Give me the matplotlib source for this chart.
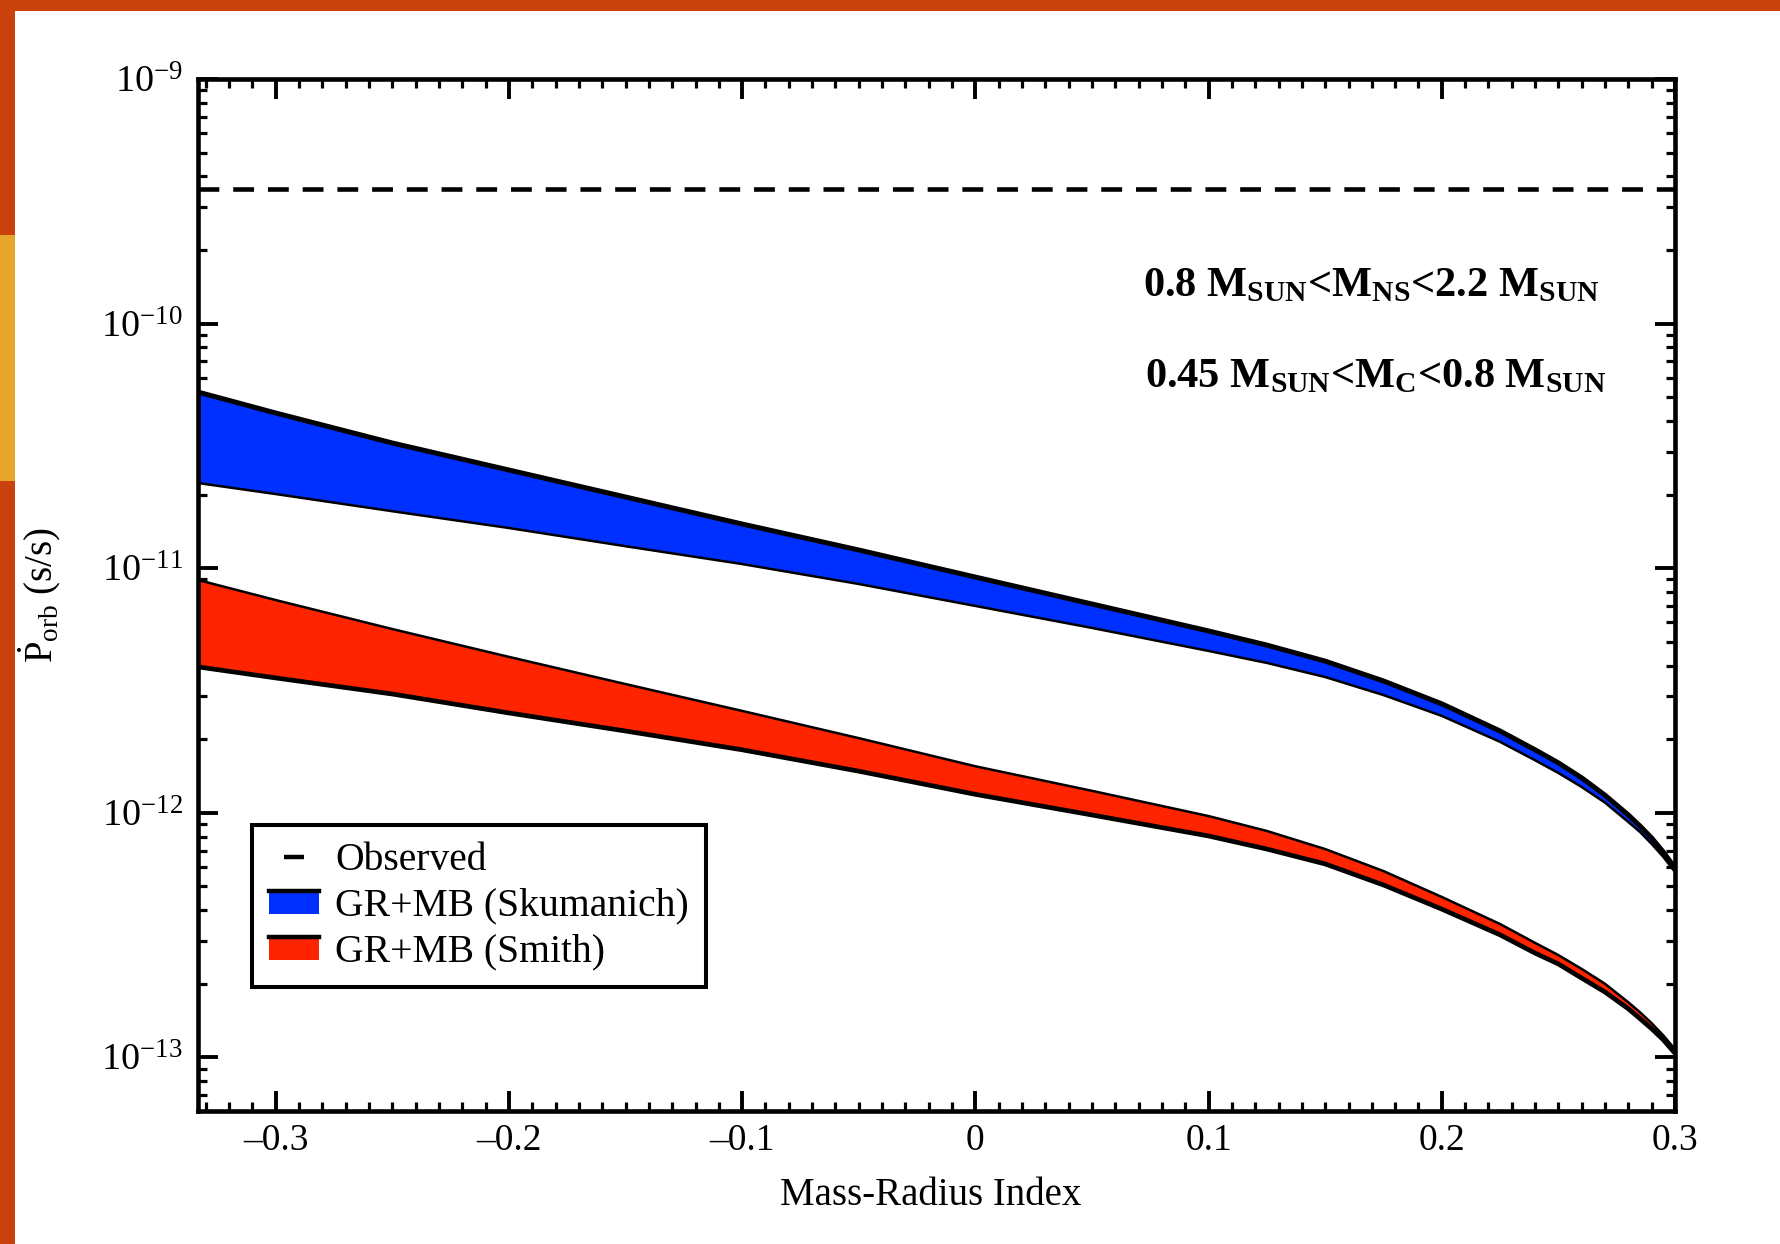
import numpy as np
import matplotlib
matplotlib.use("Agg")
import matplotlib.pyplot as plt
from matplotlib.patches import Rectangle, Patch
from matplotlib.lines import Line2D
from matplotlib.legend_handler import HandlerBase
from matplotlib.ticker import FixedLocator, FixedFormatter, LogLocator, NullFormatter

plt.rcParams['font.family'] = ['Liberation Serif', 'DejaVu Serif']
plt.rcParams['mathtext.fontset'] = 'custom'
plt.rcParams['mathtext.rm'] = 'Liberation Serif'
plt.rcParams['mathtext.it'] = 'Liberation Serif:italic'
plt.rcParams['mathtext.bf'] = 'Liberation Serif:bold'
plt.rcParams['lines.scale_dashes'] = False

# ---- data ----
mr_index = [-1/3, -0.3, -0.25, -0.2, -0.15, -0.1, -0.05, 0.0, 0.05, 0.1,
            0.125, 0.15, 0.175, 0.2, 0.225, 0.24, 0.25, 0.26, 0.27, 0.28,
            0.285, 0.29, 0.295, 0.3]
skumanich_upper = [5.25e-11, 4.31e-11, 3.25e-11, 2.52e-11, 1.955e-11, 1.516e-11,
                   1.187e-11, 9.20e-12, 7.14e-12, 5.54e-12, 4.85e-12, 4.17e-12,
                   3.46e-12, 2.79e-12, 2.16e-12, 1.81e-12, 1.60e-12, 1.39e-12,
                   1.18e-12, 9.80e-13, 8.83e-13, 7.89e-13, 6.91e-13, 5.95e-13]
skumanich_lower = [2.23e-11, 2.01e-11, 1.71e-11, 1.46e-11, 1.23e-11, 1.04e-11,
                   8.62e-12, 7.01e-12, 5.70e-12, 4.59e-12, 4.10e-12, 3.59e-12,
                   3.03e-12, 2.49e-12, 1.95e-12, 1.64e-12, 1.455e-12, 1.275e-12,
                   1.10e-12, 9.17e-13, 8.35e-13, 7.46e-13, 6.60e-13, 5.73e-13]
smith_upper = [8.95e-12, 7.41e-12, 5.64e-12, 4.34e-12, 3.36e-12, 2.61e-12,
               2.02e-12, 1.55e-12, 1.23e-12, 9.70e-13, 8.43e-13, 7.11e-13,
               5.78e-13, 4.53e-13, 3.51e-13, 2.94e-13, 2.62e-13, 2.30e-13,
               2.00e-13, 1.68e-13, 1.53e-13, 1.38e-13, 1.23e-13, 1.08e-13]
smith_lower = [3.95e-12, 3.56e-12, 3.06e-12, 2.56e-12, 2.16e-12, 1.81e-12,
               1.48e-12, 1.19e-12, 9.80e-13, 8.04e-13, 7.11e-13, 6.18e-13,
               5.07e-13, 4.04e-13, 3.17e-13, 2.67e-13, 2.41e-13, 2.11e-13,
               1.85e-13, 1.58e-13, 1.44e-13, 1.31e-13, 1.18e-13, 1.04e-13]
observed_pdot = 3.55e-10

xtick_values = [-0.3, -0.2, -0.1, 0.0, 0.1, 0.2, 0.3]
xtick_labels = ['\u20130.3', '\u20130.2', '\u20130.1', '0', '0.1', '0.2', '0.3']
ytick_values = [1e-13, 1e-12, 1e-11, 1e-10, 1e-9]
ytick_labels = [r'$10^{-13}$', r'$10^{-12}$', r'$10^{-11}$', r'$10^{-10}$', r'$10^{-9}$']
legend_labels = ['Observed', 'GR+MB (Skumanich)', 'GR+MB (Smith)']
annot_lines = [r'0.8 M$_{\mathbf{SUN}}$<M$_{\mathbf{NS}}$<2.2 M$_{\mathbf{SUN}}$',
               r'0.45 M$_{\mathbf{SUN}}$<M$_{\mathbf{C}}$<0.8 M$_{\mathbf{SUN}}$']

BLUE = '#0030ff'
RED = '#ff2400'
ORANGE = '#c9420e'
YELLOW = '#e6a62c'

W, H = 1780, 1244
fig = plt.figure(figsize=(W / 100, H / 100), dpi=100, facecolor=ORANGE)
# slide background pieces
fig.patches.append(Rectangle((15 / W, 0), 1 - 15 / W, 1 - 11 / H, transform=fig.transFigure,
                             facecolor='white', edgecolor='none', zorder=-2))
fig.patches.append(Rectangle((0, 1 - 481 / H), 15 / W, (481 - 235) / H, transform=fig.transFigure,
                             facecolor=YELLOW, edgecolor='none', zorder=-2))

ax = fig.add_axes([198 / W, 1 - 1111 / H, (1675 - 198) / W, (1111 - 79) / H])
ax.set_zorder(1)
ax.set_facecolor('white')

x = np.array(mr_index)
ax.fill_between(x, skumanich_lower, skumanich_upper, color=BLUE, lw=0, zorder=2)
ax.fill_between(x, smith_lower, smith_upper, color=RED, lw=0, zorder=2)
ax.plot(x, skumanich_upper, color='k', lw=3.6, zorder=3, solid_joinstyle='round')
ax.plot(x, skumanich_lower, color='k', lw=1.8, zorder=3, solid_joinstyle='round')
ax.plot(x, smith_upper, color='k', lw=1.8, zorder=3, solid_joinstyle='round')
ax.plot(x, smith_lower, color='k', lw=3.4, zorder=3, solid_joinstyle='round')
ax.axhline(observed_pdot, color='k', lw=3.3, linestyle=(0, (15, 10)), zorder=3)

ax.set_yscale('log')
ax.set_xlim(-1/3, 0.3)
ax.set_ylim(10 ** -13.219, 1e-9)

ax.xaxis.set_major_locator(FixedLocator(xtick_values))
ax.xaxis.set_major_formatter(FixedFormatter(xtick_labels))
ax.xaxis.set_minor_locator(FixedLocator(np.round(np.arange(-0.33, 0.3001, 0.01), 3)))
ax.yaxis.set_major_locator(FixedLocator(ytick_values))
ax.yaxis.set_major_formatter(FixedFormatter(ytick_labels))
ax.yaxis.set_minor_locator(LogLocator(base=10, subs=np.arange(2, 10), numticks=20))
ax.yaxis.set_minor_formatter(NullFormatter())

ax.tick_params(which='both', direction='in', top=True, right=True, colors='k')
ax.tick_params(which='major', length=14.5, width=2.8)
ax.tick_params(which='minor', length=6.5, width=2.3)
ax.tick_params(axis='x', which='major', labelsize=27, pad=9)
ax.tick_params(axis='y', which='major', labelsize=27.5, pad=11)
for s in ax.spines.values():
    s.set_linewidth(3.3)
    s.set_zorder(5)

ax.set_xlabel('Mass-Radius Index', fontsize=28)
ax.xaxis.set_label_coords(0.4963, -0.064)
ax.set_ylabel(r'$\dot{\mathrm{P}}_{\mathrm{orb}}$ (s/s)', fontsize=28)
ax.yaxis.set_label_coords(-0.091, 0.5)

fig.text(1371 / W, 1 - 296 / H, annot_lines[0], fontsize=30.5, fontweight='bold',
         ha='center', va='baseline', zorder=3)
fig.text(1376 / W, 1 - 387 / H, annot_lines[1], fontsize=30.5, fontweight='bold',
         ha='center', va='baseline', zorder=3)


class BandHandler(HandlerBase):
    def create_artists(self, legend, orig_handle, xdescent, ydescent, width, height,
                       fontsize, trans):
        r = Rectangle((-xdescent, -ydescent), width, height,
                      facecolor=orig_handle.get_facecolor(), edgecolor='none', transform=trans)
        y_top = -ydescent + height - 1.6
        ln = Line2D([-xdescent, -xdescent + width], [y_top, y_top], color='k', lw=3.2,
                    transform=trans)
        return [r, ln]


obs_handle = Line2D([], [], linestyle='none', marker='_', markersize=15, mew=3.2, color='k')
sk_handle = Patch(facecolor=BLUE)
sm_handle = Patch(facecolor=RED)
leg = ax.legend([obs_handle, sk_handle, sm_handle], legend_labels,
                handler_map={Patch: BandHandler()},
                loc='upper left', bbox_to_anchor=(0.0366, 0.277), borderaxespad=0,
                fontsize=28.5, frameon=True, fancybox=False, framealpha=1,
                edgecolor='k', handlelength=1.26, handleheight=0.6, handletextpad=0.42,
                labelspacing=0.22, borderpad=0.42)
leg.get_frame().set_linewidth(2.9)
leg.set_zorder(6)

fig.savefig('out.png', dpi=100, facecolor=ORANGE)
